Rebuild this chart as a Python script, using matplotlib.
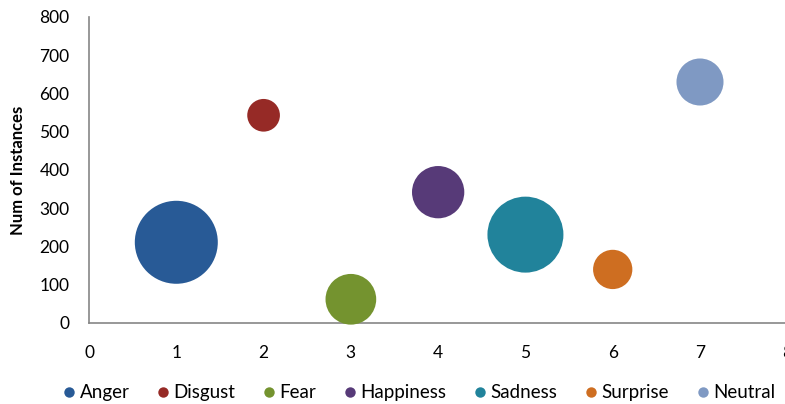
import matplotlib
matplotlib.use("Agg")
import matplotlib.pyplot as plt
from matplotlib.lines import Line2D

emotions = ["Anger", "Disgust", "Fear", "Happiness", "Sadness", "Surprise", "Neutral"]
x_pos = [1, 2, 3, 4, 5, 6, 7]
instances = [211, 543, 62, 342, 231, 140, 630]
bubble_size = [1000, 155, 373, 397, 838, 224, 321]
colors = ["#285A96", "#962A26", "#74932F", "#573A78", "#21839B", "#CE6E21", "#7F99C3"]

plt.rcParams["font.family"] = ["Lato", "DejaVu Sans"]

fig = plt.figure(figsize=(7.85, 4.04), dpi=100)
ax = fig.add_axes([0.1134, 0.2005, 0.8895, 0.7575])

# largest bubble ~83 px across
max_s = (83 * 0.72) ** 2
for name, xv, yv, bs, c in zip(emotions, x_pos, instances, bubble_size, colors):
    ax.scatter([xv], [yv], s=bs / max(bubble_size) * max_s, color=c, edgecolors="none",
               label=name, zorder=3, clip_on=False)

ax.set_xlim(0, 8)
ax.set_ylim(0, 800)
ax.set_xticks(range(0, 9))
ax.set_yticks(range(0, 801, 100))
ax.tick_params(axis="both", length=0, labelsize=12.5, colors="#000000")
ax.tick_params(axis="x", pad=16)
ax.tick_params(axis="y", pad=14)
ax.set_ylabel("Num of Instances", fontsize=12, fontweight="bold", labelpad=10)

for side in ["top", "right"]:
    ax.spines[side].set_visible(False)
for side in ["left", "bottom"]:
    ax.spines[side].set_color("#868686")
    ax.spines[side].set_linewidth(1.2)

handles = [Line2D([0], [0], marker="o", linestyle="none", markersize=7.5,
                  markerfacecolor=c, markeredgecolor="none") for c in colors]
fig.legend(handles, emotions, loc="lower center", bbox_to_anchor=(0.532, -0.035), ncol=7,
           frameon=False, fontsize=13.5, handletextpad=0.05, columnspacing=1.3,
           handlelength=1.0)

fig.savefig("out.png", dpi=100)
